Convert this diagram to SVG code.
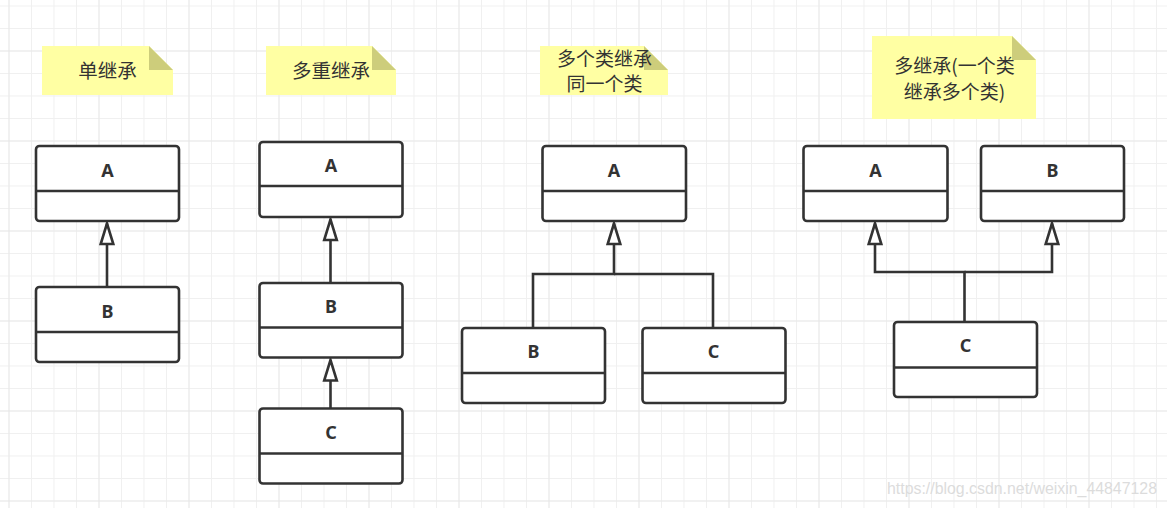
<svg xmlns="http://www.w3.org/2000/svg" width="1167" height="508" viewBox="0 0 1167 508">
<defs>
<style>
.box{fill:#fff;stroke:#333;stroke-width:2.6}
.div{stroke:#333;stroke-width:2.6;fill:none}
.ttl{font-family:"Noto Sans","Liberation Sans",sans-serif;font-weight:bold;font-size:18px;fill:#333;text-anchor:middle}
.note{fill:#ffffa3}
.fold{fill:#cdcd7b}
.nt{font-family:"Noto Sans CJK SC","Noto Sans",sans-serif;font-size:19.5px;fill:#333;text-anchor:middle}
.nt2{font-size:19px}
.edge{fill:none;stroke:#333;stroke-width:2.6}
.wm{font-family:"Liberation Sans",Arial,sans-serif;font-size:16px;fill:#dcdcdc}
</style>
<pattern id="minor" patternUnits="userSpaceOnUse" x="8.5" y="5.5" width="22.5" height="22.5">
<path d="M0 0V22.5M0 0H22.5" stroke="#f0f0f0" stroke-width="2" fill="none"/>
</pattern>
<pattern id="major" patternUnits="userSpaceOnUse" x="8.5" y="50.5" width="90" height="90">
<path d="M0 0V90M0 0H90" stroke="#e6e6e6" stroke-width="1.5" fill="none"/>
</pattern>
<marker id="tri" markerUnits="userSpaceOnUse" markerWidth="26" markerHeight="18" viewBox="-23 -9 26 18" refX="0" refY="0" orient="auto">
<path d="M0 0L-20.5 -6.3L-20.5 6.3Z" fill="#fff" stroke="#333" stroke-width="2.6" stroke-linejoin="miter"/>
</marker>
</defs>
<rect width="1167" height="508" fill="#fff"/>
<rect width="1167" height="508" fill="url(#minor)"/>
<rect width="1167" height="508" fill="url(#major)"/>

<g id="note1">
<path class="note" d="M42 46H149L173 70V95H42Z"/>
<path class="fold" d="M149 46L173 70H149Z"/>
<text class="nt" x="107.5" y="77.5">单继承</text>
</g>
<g id="note2">
<path class="note" d="M266 46H372L396 70V95H266Z"/>
<path class="fold" d="M372 46L396 70H372Z"/>
<text class="nt" x="331" y="78">多重继承</text>
</g>
<g id="note3">
<path class="note" d="M540 46H644L668 70V95H540Z"/>
<path class="fold" d="M644 46L668 70H644Z"/>
<text class="nt nt2" x="604.5" y="65.5">多个类继承</text>
<text class="nt nt2" x="604.5" y="90.5">同一个类</text>
</g>
<g id="note4">
<path class="note" d="M872 36H1012L1036 60V119H872Z"/>
<path class="fold" d="M1012 36L1036 60H1012Z"/>
<text class="nt nt2" x="954.5" y="73.3">多继承(一个类</text>
<text class="nt nt2" x="954.5" y="98.6">继承多个类)</text>
</g>

<g id="g1A">
<rect class="box" x="36" y="146" width="143" height="75" rx="3.5"/>
<path class="div" d="M36 191H179"/>
<text class="ttl" x="107.5" y="176.5">A</text>
</g>
<g id="g1B">
<rect class="box" x="36" y="287" width="143" height="75" rx="3.5"/>
<path class="div" d="M36 332H179"/>
<text class="ttl" x="107.5" y="317.5">B</text>
</g>

<g id="g2A">
<rect class="box" x="259.5" y="142" width="143" height="75" rx="3.5"/>
<path class="div" d="M259.5 186H402.5"/>
<text class="ttl" x="331" y="171.5">A</text>
</g>
<g id="g2B">
<rect class="box" x="259.5" y="283" width="143" height="74.5" rx="3.5"/>
<path class="div" d="M259.5 327.5H402.5"/>
<text class="ttl" x="331" y="312.5">B</text>
</g>
<g id="g2C">
<rect class="box" x="259.5" y="408.5" width="143" height="75" rx="3.5"/>
<path class="div" d="M259.5 453.5H402.5"/>
<text class="ttl" x="331" y="438.5">C</text>
</g>

<g id="g3A">
<rect class="box" x="542.5" y="146" width="143.5" height="75" rx="3.5"/>
<path class="div" d="M542.5 191H686"/>
<text class="ttl" x="614" y="176.5">A</text>
</g>
<g id="g3B">
<rect class="box" x="462" y="328" width="143" height="75" rx="3.5"/>
<path class="div" d="M462 373H605"/>
<text class="ttl" x="533.5" y="358">B</text>
</g>
<g id="g3C">
<rect class="box" x="642.5" y="328" width="143" height="75" rx="3.5"/>
<path class="div" d="M642.5 373H785.5"/>
<text class="ttl" x="713.5" y="358">C</text>
</g>

<g id="g4A">
<rect class="box" x="803.5" y="146" width="144" height="75" rx="3.5"/>
<path class="div" d="M803.5 191H947.5"/>
<text class="ttl" x="875.5" y="176.5">A</text>
</g>
<g id="g4B">
<rect class="box" x="981" y="146" width="143" height="75" rx="3.5"/>
<path class="div" d="M981 191H1124"/>
<text class="ttl" x="1052.5" y="176.5">B</text>
</g>
<g id="g4C">
<rect class="box" x="894" y="322" width="143" height="75" rx="3.5"/>
<path class="div" d="M894 367.5H1037"/>
<text class="ttl" x="965.5" y="352">C</text>
</g>

<g id="connectors">
<path class="edge" d="M107 287V223.5" marker-end="url(#tri)"/>
<path class="edge" d="M330.5 283V219.5" marker-end="url(#tri)"/>
<path class="edge" d="M330.5 408.5V360" marker-end="url(#tri)"/>
<path class="edge" d="M533 328V274H614V223.5" marker-end="url(#tri)"/>
<path class="edge" d="M713 328V274H614"/>
<path class="edge" d="M964.5 322V272H875V223.5" marker-end="url(#tri)"/>
<path class="edge" d="M964.5 272H1052V223.5" marker-end="url(#tri)"/>
</g>

<text class="wm" x="887" y="494" textLength="270" lengthAdjust="spacingAndGlyphs">https://blog.csdn.net/weixin_44847128</text>
</svg>
